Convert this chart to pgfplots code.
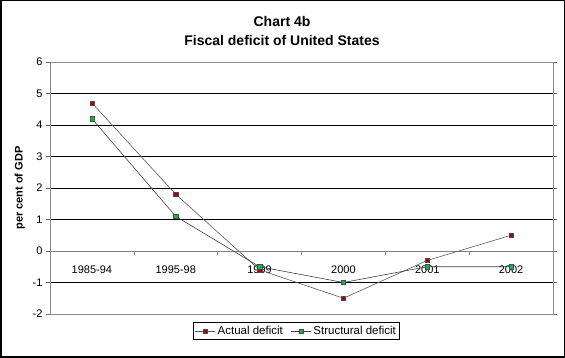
\documentclass[border=0pt]{standalone}
\usepackage{fontspec}
\setmainfont{Liberation Sans}
\usepackage{pgfplots}
\pgfplotsset{compat=1.18}
\definecolor{actred}{HTML}{B00000}
\definecolor{strgreen}{HTML}{00C040}
\pgfplotstableread{
x actual structural
0 4.7 4.2
1 1.8 1.1
2 -0.6 -0.5
3 -1.5 -1.0
4 -0.3 -0.5
5 0.5 -0.5
}\datatable
\begin{document}
\begin{tikzpicture}[x=1pt,y=1pt]
\draw[line width=1.5pt] (0.75,0.75) rectangle (564.25,357.25);
\node[font=\fontsize{14}{19}\selectfont\bfseries, align=center] at (282,327) {Chart 4b\\Fiscal deficit of United States};
\begin{axis}[
  at={(50pt,44pt)}, anchor=south west, scale only axis,
  width=503pt, height=252pt,
  xmin=-0.5, xmax=5.5, ymin=-2, ymax=6,
  ytick={-2,...,6},
  xtick={0,...,5},
  xticklabels={1985-94,1995-98,1999,2000,2001,2002},
  xtick style={draw=none},
  ytick style={black!60, line width=0.6pt},
  tick align=outside, major tick length=4pt,
  axis line style={black!45, line width=0.8pt},
  ymajorgrids, grid style={black, line width=0.6pt},
  xticklabel style={yshift=56pt, font=\fontsize{11}{12}\selectfont},
  yticklabel style={font=\fontsize{11}{12}\selectfont},
  /pgf/number format/assume math mode=true,
  ylabel={per cent of GDP},
  ylabel style={font=\fontsize{11}{12}\selectfont\bfseries, at={(axis description cs:-0.06,0.5)}, anchor=center},
  legend columns=2,
  legend style={at={(rel axis cs:0.49,-0.0675)}, anchor=center, draw=black, line width=0.6pt,
    font=\fontsize{11.5}{13}\selectfont, inner sep=1.5pt, /tikz/every even column/.append style={column sep=6pt}},
  legend image code/.code={\draw[#1] (0pt,0pt) -- (20pt,0pt); \draw[#1, only marks] plot coordinates {(10pt,0pt)};},
  clip=false,
]
\draw[black!50, line width=0.8pt] (axis cs:-0.5,0) -- (axis cs:5.5,0);
\draw[black!50, line width=0.6pt] (axis cs:0.5,0) -- (axis cs:0.5,-0.13);
\draw[black!50, line width=0.6pt] (axis cs:1.5,0) -- (axis cs:1.5,-0.13);
\draw[black!50, line width=0.6pt] (axis cs:2.5,0) -- (axis cs:2.5,-0.13);
\draw[black!50, line width=0.6pt] (axis cs:3.5,0) -- (axis cs:3.5,-0.13);
\draw[black!50, line width=0.6pt] (axis cs:4.5,0) -- (axis cs:4.5,-0.13);
\addplot[black!65, line width=0.6pt, mark=square*, mark size=2.2pt, mark options={fill=actred, draw=black!70, line width=0.4pt}] table[x=x, y=actual] {\datatable};
\addlegendentry{Actual deficit}
\addplot[black!75, line width=0.6pt, mark=square*, mark size=2.2pt, mark options={fill=strgreen, draw=black!70, line width=0.4pt}] table[x=x, y=structural] {\datatable};
\addlegendentry{Structural deficit}
\end{axis}
\end{tikzpicture}
\end{document}
